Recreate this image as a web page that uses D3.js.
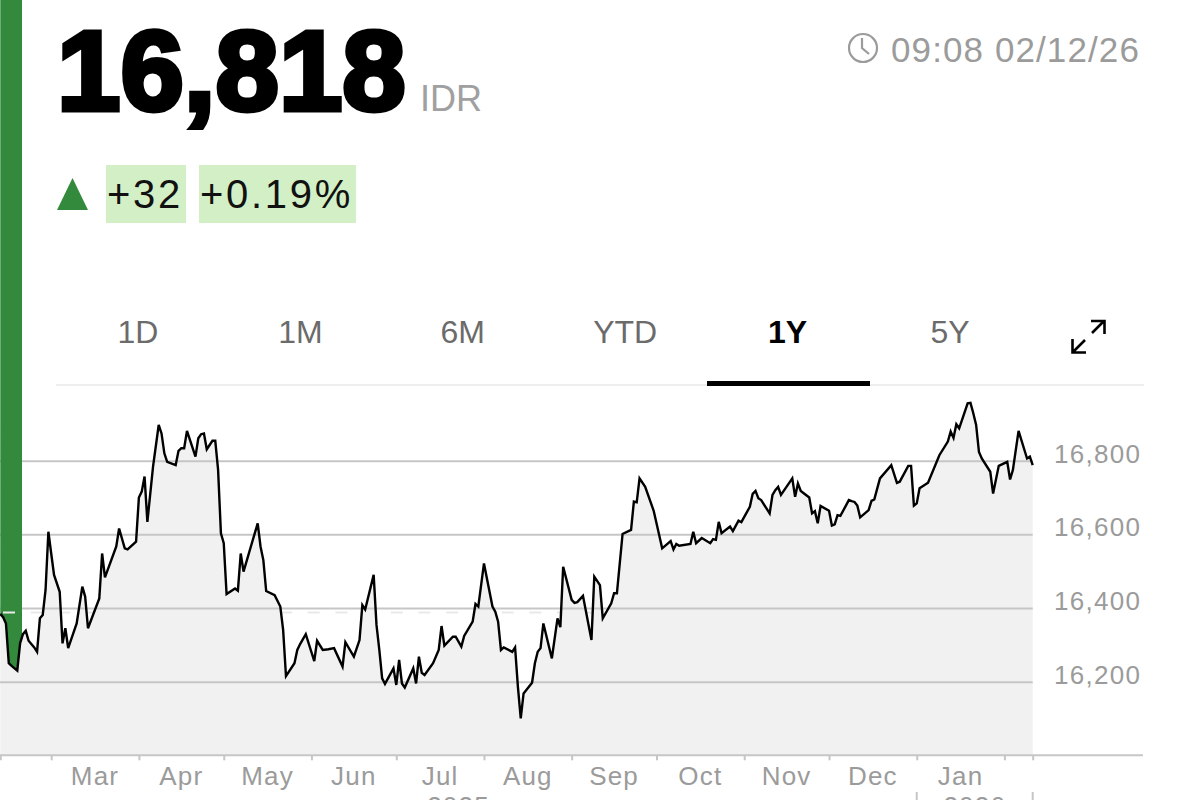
<!DOCTYPE html>
<html>
<head>
<meta charset="utf-8">
<script src="https://cdn.jsdelivr.net/npm/d3@7"></script>
<style>
  html, body { margin: 0; padding: 0; background: #fff; overflow: hidden; }
  svg { display: block; font-family: "Liberation Sans", Arial, sans-serif; }
</style>
</head>
<body>
<svg width="1200" height="800"></svg>
<script>
// days since the first point of the series
const days = [
  0,1,2,3,4,6,7,8,9,10,12,13,14,15,16,17,18,19,21,22,23,24,27,29,30,31,35,36,37,41,42,44,45,48,49,50,51,52,54,56,
  57,58,59,62,63,64,65,66,69,70,71,72,73,75,76,77,78,79,80,83,84,85,86,91,92,93,94,97,99,100,101,104,105,106,108,
  111,112,114,116,118,121,122,125,127,128,129,132,133,134,135,136,139,140,141,142,143,146,147,148,149,150,153,155,
  156,157,160,161,163,164,167,168,169,171,174,175,176,177,178,181,182,183,184,185,188,189,190,191,192,195,197,198,
  199,202,203,204,206,209,210,212,213,216,217,218,220,223,224,225,226,228,231,232,234,237,238,239,240,244,245,246,
  248,251,252,253,254,255,258,259,261,262,265,266,267,268,269,272,273,274,275,276,280,281,282,283,286,287,288,289,
  290,293,294,295,296,297,300,301,302,303,304,307,308,309,311,315,317,318,321,322,323,324,325,328,332,335,336,337,
  338,339,342,343,344,345,346,347,350,351,353,356,357,358,360,363,364,365
];
const rates = [
  16384,16375,16358,16250,16243,16230,16304,16329,16338,16311,16293,16281,16372,16381,16449,16607,16548,16490,16444,16304,
  16345,16291,16358,16458,16431,16345,16426,16548,16483,16567,16616,16562,16559,16580,16700,16716,16757,16634,16784,16897,
  16874,16820,16797,16788,16827,16834,16834,16881,16811,16861,16872,16874,16831,16854,16854,16775,16603,16576,16438,16453,
  16447,16548,16499,16630,16567,16530,16446,16435,16404,16340,16215,16250,16286,16302,16329,
  16256,16311,16286,16288,16291,16241,16307,16268,16313,16408,16396,16490,16354,16286,16209,16194,16236,16191,16259,16195,
  16184,16236,16195,16268,16224,16218,16250,16286,
  16351,16298,16322,16322,16295,16324,16363,16411,16404,16521,16404,16390,16363,16286,16293,16281,16293,16186,16100,16168,
  16197,16250,16281,16291,16358,16263,16372,16348,
  16512,16422,16414,16416,16433,16313,16485,16462,16372,16413,16440,16440,16601,16612,16689,16687,16752,16729,16664,16630,
  16562,16582,16559,16574,16569,16574,16607,16576,
  16590,16576,16587,16585,16634,16603,16621,16609,16637,16633,16675,16710,16718,16698,16693,16657,16707,16720,16729,16707,
  16752,16702,16738,16718,16700,16657,16663,16630,
  16677,16664,16624,16627,16652,16650,16693,16690,16688,16678,16646,16666,16691,16695,16752,16788,16740,16743,16786,16786,
  16678,16684,16725,16740,16815,16852,16879,16862,
  16899,16888,16956,16957,16929,16897,16824,16806,16770,16711,16786,16797,16749,16775,16881,16806,16811,16788
];
const priceTicks = [16200, 16400, 16600, 16800];
const previousClose = 16388;
const monthStarts = ['2025-03-01','2025-04-01','2025-05-01','2025-06-01','2025-07-01','2025-08-01','2025-09-01','2025-10-01','2025-11-01','2025-12-01','2026-01-01','2026-02-01'];
const monthNames = ['Mar','Apr','May','Jun','Jul','Aug','Sep','Oct','Nov','Dec','Jan'];
const tabs = ['1D','1M','6M','YTD','1Y','5Y'];
const activeTab = '1Y';

const svg = d3.select('svg');
const parse = d3.timeParse('%Y-%m-%d');
const startDate = parse('2025-02-11');
const endDate = parse('2026-02-11');

const GREEN = '#348a3c', GREY = '#9b9b9b', RULE = '#c6c6c6';
const baseY = 755.3;

const x = d3.scaleTime().domain([startDate, endDate]).range([0.3, 1032.7]);
const y = d3.scaleLinear().domain([16000, 16800]).range([baseY, 460.7]);

const series = days.map((d, i) => ({ date: d3.timeDay.offset(startDate, d), rate: rates[i] }));

// --- Clip: everything above the price line ---
svg.append('defs').append('clipPath').attr('id', 'above')
  .append('path')
  .datum(series)
  .attr('d', d3.area().x(d => x(d.date)).y0(0).y1(d => y(d.rate)));

// --- Area ---
svg.append('path')
  .datum(series)
  .attr('d', d3.area().x(d => x(d.date)).y0(baseY).y1(d => y(d.rate)))
  .attr('fill', '#f1f1f1');

// --- Grid + price labels ---
const yAxis = svg.append('g')
  .call(d3.axisRight(y).tickValues(priceTicks).tickSize(x.range()[1]).tickFormat(d3.format(',')));
yAxis.select('.domain').remove();
yAxis.selectAll('line').attr('stroke', RULE).attr('stroke-width', 2);
yAxis.selectAll('text')
  .attr('x', 1054).attr('dy', 1.5)
  .attr('text-anchor', 'start')
  .attr('fill', GREY)
  .style('font-family', '"Liberation Sans"')
  .style('font-size', '26px')
  .style('letter-spacing', '1.3px');

// --- Green bar (only above the line) ---
const above = svg.append('g').attr('clip-path', 'url(#above)');
above.append('rect').attr('x', 0).attr('y', 0).attr('width', 22).attr('height', baseY).attr('fill', GREEN);
above.append('line')
  .attr('x1', 3).attr('x2', 1032)
  .attr('y1', y(previousClose)).attr('y2', y(previousClose))
  .attr('stroke', '#e9e9e9').attr('stroke-width', 2)
  .attr('stroke-dasharray', '12 15.7');

// --- Price line ---
svg.append('path')
  .datum(series)
  .attr('d', d3.line().x(d => x(d.date)).y(d => y(d.rate)))
  .attr('fill', 'none')
  .attr('stroke', '#000')
  .attr('stroke-width', 2.4);

// --- Time axis ---
const starts = monthStarts.map(parse);
const xAxis = svg.append('g')
  .attr('transform', `translate(0,${baseY})`)
  .call(d3.axisBottom(x).tickValues([startDate, ...starts, endDate]).tickSize(5).tickFormat(''));
xAxis.select('.domain').remove();
xAxis.selectAll('line').attr('stroke', RULE).attr('stroke-width', 2);
svg.append('line')
  .attr('x1', 0).attr('x2', 1143).attr('y1', baseY).attr('y2', baseY)
  .attr('stroke', RULE).attr('stroke-width', 2);

svg.append('g').selectAll('text')
  .data(monthNames)
  .join('text')
  .attr('x', (d, i) => (x(starts[i]) + x(starts[i + 1])) / 2)
  .attr('y', 785)
  .attr('text-anchor', 'middle')
  .attr('fill', GREY)
  .style('font-size', '26px')
  .style('letter-spacing', '1.2px')
  .text(d => d);

// year row, mostly cut off by the bottom edge
const jan = parse('2026-01-01');
[[startDate, jan, '2025'], [jan, endDate, '2026']].forEach(([a, b, label]) => {
  svg.append('text')
    .attr('x', (x(a) + x(b)) / 2).attr('y', 815)
    .attr('text-anchor', 'middle').attr('fill', GREY)
    .style('font-size', '26px')
    .style('letter-spacing', '1.2px')
    .text(label);
});
[jan, endDate].forEach(d => {
  svg.append('line')
    .attr('x1', x(d)).attr('x2', x(d)).attr('y1', 792).attr('y2', 800)
    .attr('stroke', RULE).attr('stroke-width', 2);
});

// --- Header ---
svg.append('text')
  .attr('x', 57).attr('y', 110)
  .attr('fill', '#000').attr('stroke', '#000').attr('stroke-width', 5)
  .attr('stroke-linejoin', 'miter')
  .style('font-size', '114px').style('font-weight', 700)
  .text('16,818');
svg.append('text')
  .attr('x', 420).attr('y', 111)
  .attr('fill', '#a0a0a0')
  .style('font-size', '36px')
  .text('IDR');

svg.append('path').attr('d', 'M57,210L72.5,178L88,210Z').attr('fill', GREEN);
[[106, 80, '+32', 107], [199, 157, '+0.19%', 200]].forEach(([px, w, label, tx]) => {
  svg.append('rect').attr('x', px).attr('y', 165).attr('width', w).attr('height', 58).attr('fill', '#d3efc6');
  svg.append('text')
    .attr('x', tx).attr('y', 208)
    .attr('fill', '#111')
    .style('font-size', '40px')
    .style('letter-spacing', '2.7px')
    .text(label);
});

// --- Timestamp ---
const clock = svg.append('g').attr('fill', 'none').attr('stroke', GREY).attr('stroke-width', 2.2);
clock.append('circle').attr('cx', 863).attr('cy', 48).attr('r', 14);
clock.append('path').attr('d', 'M862,38V48L869,54');
svg.append('text')
  .attr('x', 891).attr('y', 62)
  .attr('fill', GREY)
  .style('font-size', '35px')
  .style('letter-spacing', '1.1px')
  .text('09:08 02/12/26');

// --- Range tabs ---
const tabCenters = d3.scalePoint().domain(tabs).range([138, 950]);
svg.append('g').selectAll('text')
  .data(tabs)
  .join('text')
  .attr('x', d => tabCenters(d))
  .attr('y', 343)
  .attr('text-anchor', 'middle')
  .attr('fill', d => d === activeTab ? '#000' : '#6b6b6b')
  .style('font-size', '32px')
  .style('font-weight', d => d === activeTab ? 700 : 400)
  .text(d => d);
svg.append('line').attr('x1', 56).attr('x2', 1144).attr('y1', 385).attr('y2', 385).attr('stroke', '#eee').attr('stroke-width', 2);
svg.append('rect').attr('x', 707).attr('y', 381).attr('width', 163).attr('height', 5).attr('fill', '#000');

// --- Expand icon ---
svg.append('path')
  .attr('d', 'M1092,333L1104,321M1091,321H1104.5V334M1085,340L1073,352M1072.5,339V352.5H1086')
  .attr('fill', 'none').attr('stroke', '#000').attr('stroke-width', 2.6);
</script>
</body>
</html>
